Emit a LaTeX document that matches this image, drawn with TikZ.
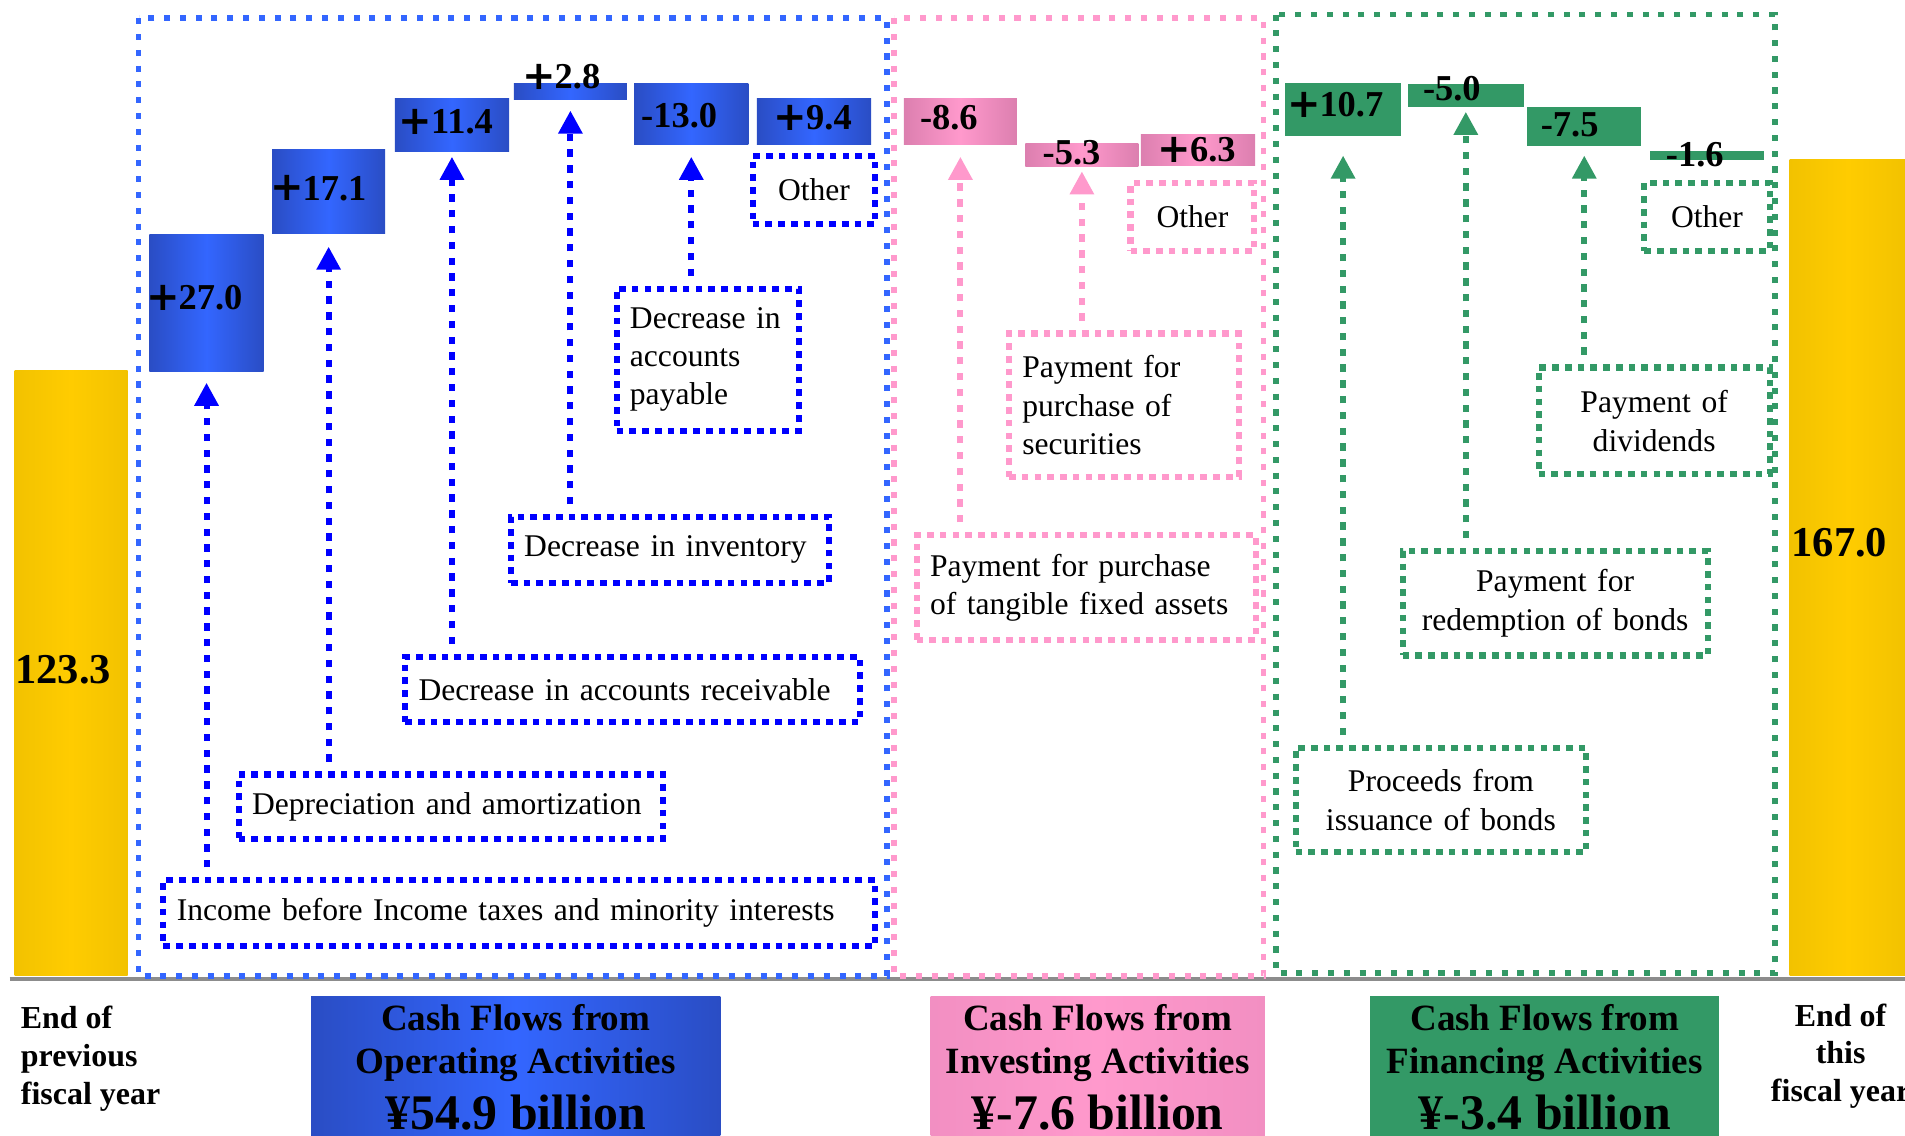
\documentclass[tikz,border=0pt]{standalone}
\usepackage{fontspec}
\setmainfont{Liberation Serif}
\newfontfamily\plusfamily{DejaVu Sans}
\usetikzlibrary{arrows.meta}

\definecolor{opblue}{HTML}{3366FF}
\definecolor{opbluedk}{HTML}{2A4DC4}
\definecolor{oplink}{HTML}{0000FF}
\definecolor{invpink}{HTML}{FF99CC}
\definecolor{invpinkdk}{HTML}{DC7FAF}
\definecolor{invpinkbx}{HTML}{F28FC2}
\definecolor{finteal}{HTML}{339966}
\definecolor{cashgold}{HTML}{FFCC00}
\definecolor{cashgolddk}{HTML}{F2C200}
\definecolor{baseln}{HTML}{8C8C8C}

\newcommand\notefont{\fontsize{26}{31.5}\selectfont}
\newcommand\valfont{\bfseries\fontsize{30}{30}\selectfont}
\newcommand\bigvalfont{\bfseries\fontsize{35}{35}\selectfont}
\newcommand\headfont{\bfseries\fontsize{30.5}{36}\selectfont}
\newcommand\sumfont{\bfseries\fontsize{41}{36}\selectfont}
\newcommand\yearfont{\bfseries\fontsize{26.3}{31}\selectfont}
\newcommand\plussign{{\plusfamily\bfseries\fontsize{33}{33}\selectfont\raisebox{-0.5pt}{+}}\kern-1pt}

\begin{document}
\begin{tikzpicture}[x=1pt, y=-1pt,
  bar/.style={rectangle, draw=none, inner sep=0pt, outer sep=0pt, anchor=north west},
  bbar/.style={bar, left color=opbluedk, right color=opbluedk, middle color=opblue},
  pbar/.style={bar, left color=invpinkdk, right color=invpinkdk, middle color=invpink},
  gbar/.style={bar, fill=finteal},
  ybar/.style={bar, left color=cashgolddk, right color=cashgolddk, middle color=cashgold},
  val/.style={font=\valfont, inner sep=0pt},
  note/.style={rectangle, anchor=north west, line width=5pt, dash pattern=on 5.5pt off 5pt,
    font=\notefont, inner xsep=11pt, inner ysep=0pt},
  bnote/.style={note, draw=oplink},
  pnote/.style={note, draw=invpink},
  gnote/.style={note, draw=finteal},
  frame/.style={line width=4.8pt, dash pattern=on 5pt off 8pt},
  link/.style={line width=5pt, dash pattern=on 6pt off 7pt, shorten <=8pt,
    -{Triangle[width=19pt, length=19pt]}},
  head/.style={bar, font=\headfont, align=center, minimum height=117pt},
  ends/.style={font=\yearfont, inner sep=0pt}]
\useasboundingbox (0,0) rectangle (1568,935);

% base line and the three frames
\draw[baseln, line width=3pt] (8,806) -- (1568,806);
\draw[frame, opblue]  (114,15) rectangle (730,803);
\draw[frame, invpink] (736,15) rectangle (1040,803);
\draw[frame, finteal] (1050,12) rectangle (1461,801);

% balances
\node[ybar, minimum width=93pt, minimum height=498pt] (prevbar) at (12,305)   {};
\node[ybar, minimum width=96pt, minimum height=672pt] (thisbar) at (1473,131) {};
\node[val, font=\bigvalfont] (prevval) at (52,551)   {123.3};
\node[val, font=\bigvalfont] (thisval) at (1514,447) {167.0};

% operating
\node[bbar, minimum width=94pt, minimum height=113pt] (b1) at (123,193) {};
\node[bbar, minimum width=93pt, minimum height=69pt]  (b2) at (224,123) {};
\node[bbar, minimum width=94pt, minimum height=44pt]  (b3) at (325,81)  {};
\node[bbar, minimum width=93pt, minimum height=13pt]  (b4) at (423,69)  {};
\node[bbar, minimum width=94pt, minimum height=50pt]  (b5) at (522,69)  {};
\node[bbar, minimum width=94pt, minimum height=38pt]  (b6) at (623,81)  {};
\node[val] (v1) at (160,245) {\plussign 27.0};
\node[val] (v2) at (262,155) {\plussign 17.1};
\node[val] (v3) at (367,100) {\plussign 11.4};
\node[val] (v4) at (462,63)  {\plussign 2.8};
\node[val] (v5) at (559,95)  {-13.0};
\node[val] (v6) at (669,97)  {\plussign 9.4};

% investing
\node[pbar, minimum width=93pt, minimum height=38pt] (p1) at (744,81)  {};
\node[pbar, minimum width=93pt, minimum height=19pt] (p2) at (844,118) {};
\node[pbar, minimum width=94pt, minimum height=25pt] (p3) at (939,111) {};
\node[val] (w1) at (781,97)  {-8.6};
\node[val] (w2) at (882,126) {-5.3};
\node[val] (w3) at (985,123) {\plussign 6.3};

% financing
\node[gbar, minimum width=95pt, minimum height=44pt] (g1) at (1058,68)  {};
\node[gbar, minimum width=95pt, minimum height=19pt] (g2) at (1159,69)  {};
\node[gbar, minimum width=94pt, minimum height=32pt] (g3) at (1257,88)  {};
\node[gbar, minimum width=94pt, minimum height=8pt]  (g4) at (1358,124) {};
\node[val] (u1) at (1099,86)  {\plussign 10.7};
\node[val] (u2) at (1195,73)  {-5.0};
\node[val] (u3) at (1292,103) {-7.5};
\node[val] (u4) at (1395,127) {-1.6};

% notes
\node[bnote, minimum width=586pt, minimum height=54pt, text width=564pt, align=left] (inc) at (132,722) {Income before Income taxes and minority interests};
\node[bnote, minimum width=349pt, minimum height=53pt, text width=327pt, align=left] (dep) at (194,635) {Depreciation and amortization};
\node[bnote, minimum width=374pt, minimum height=54pt, text width=352pt, align=left] (rec) at (331,538) {Decrease in accounts receivable};
\node[bnote, minimum width=262pt, minimum height=54pt, text width=240pt, align=left] (inv) at (418,423) {Decrease in inventory};
\node[bnote, minimum width=150pt, minimum height=117pt, text width=128pt, align=left] (pay) at (505,235) {Decrease in\\accounts\\payable};
\node[bnote, minimum width=101pt, minimum height=56pt, text width=79pt, align=center] (oth1) at (617,126) {Other};
\node[pnote, minimum width=102pt, minimum height=56pt, text width=80pt, align=center] (oth2) at (928,148) {Other};
\node[pnote, minimum width=189pt, minimum height=118pt, text width=167pt, align=left] (sec) at (828,272) {Payment for\\purchase of\\securities};
\node[pnote, minimum width=279pt, minimum height=86pt, text width=257pt, align=left] (tan) at (752,438) {Payment for purchase\\of tangible fixed assets};
\node[gnote, minimum width=103pt, minimum height=56pt, text width=81pt, align=center] (oth3) at (1351,148) {Other};
\node[gnote, minimum width=190pt, minimum height=88pt, text width=168pt, align=center] (div) at (1264,300) {Payment of\\dividends};
\node[gnote, minimum width=251pt, minimum height=86pt, text width=229pt, align=center] (red) at (1152,451) {Payment for\\redemption of bonds};
\node[gnote, minimum width=239pt, minimum height=86pt, text width=217pt, align=center] (iss) at (1064,613) {Proceeds from\\issuance of bonds};

% links
\draw[link, oplink] (inc.north -| b1.south) -- ([yshift=-9pt]b1.south);
\draw[link, oplink] (dep.north -| b2.south) -- ([yshift=-11pt]b2.south);
\draw[link, oplink] (rec.north -| b3.south) -- ([yshift=-4pt]b3.south);
\draw[link, oplink] (inv.north -| b4.south) -- ([yshift=-9pt]b4.south);
\draw[link, oplink] (pay.north -| b5.south) -- ([yshift=-10pt]b5.south);
\draw[link, invpink] (tan.north -| p1.south) -- ([yshift=-10pt]p1.south);
\draw[link, invpink] (sec.north -| p2.south) -- ([yshift=-4pt]p2.south);
\draw[link, finteal] (iss.north -| g1.south) -- ([yshift=-16pt]g1.south);
\draw[link, finteal] (red.north -| g2.south) -- ([yshift=-4pt]g2.south);
\draw[link, finteal] (div.north -| g3.south) -- ([yshift=-8pt]g3.south);

% captions
\node[ends, anchor=north west, align=left] (prevend) at (17,828) {End of\\previous\\fiscal year};
\node[ends, anchor=north, align=center] (thisend) at (1515,826) {End of\\this\\fiscal year};
\node[head, minimum width=337pt, left color=opbluedk, right color=opbluedk, middle color=opblue] (ophead) at (256,820)
  {Cash Flows from\\Operating Activities\\[10pt]{\sumfont ¥54.9 billion}};
\node[head, minimum width=275pt, left color=invpinkbx, right color=invpinkbx, middle color=invpink] (invhead) at (766,820)
  {Cash Flows from\\Investing Activities\\[10pt]{\sumfont ¥-7.6 billion}};
\node[head, minimum width=287pt, fill=finteal] (finhead) at (1128,820)
  {Cash Flows from\\Financing Activities\\[10pt]{\sumfont ¥-3.4 billion}};
\end{tikzpicture}
\end{document}
